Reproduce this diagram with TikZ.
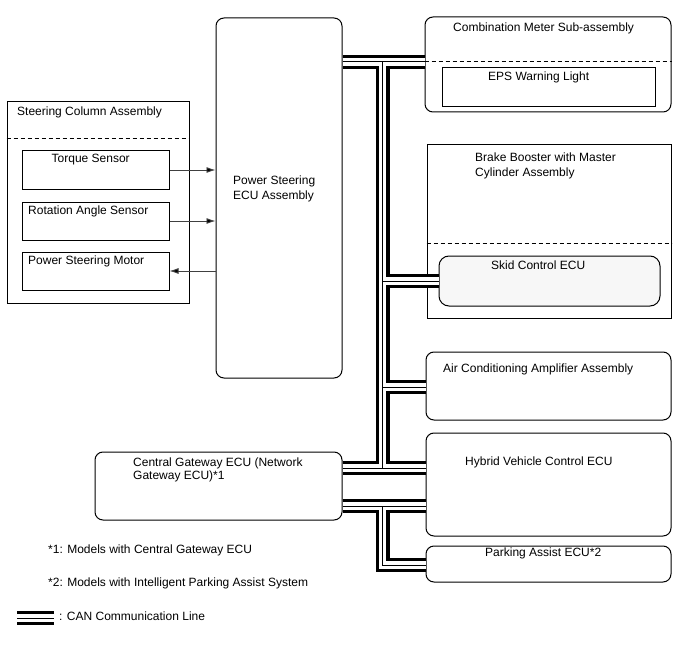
\documentclass[tikz,border=0pt]{standalone}
\usepackage{fontspec}
\setmainfont{Liberation Sans}
\usetikzlibrary{fit,arrows.meta}
\begin{document}
\begin{tikzpicture}[x=1pt,y=-1pt,
  box/.style={draw=black,line width=1pt,inner sep=0pt,fill=white},
  rbox/.style={box,rounded corners=8pt},
  txt/.style={inner sep=0pt,font=\fontsize{12}{15}\selectfont,text=black},
  dashline/.style={line width=1pt,dash pattern=on 4pt off 3pt},
  arr/.style={draw=black!75,line width=0.9pt,-{Latex[length=9pt,width=6pt,fill=black]}},
  busout/.style={line width=14pt,black},
  busmid/.style={line width=7.5pt,white},
  buscore/.style={line width=1pt,black}
]
\useasboundingbox[fill=white] (0,0) rectangle (688,658);

% boxes
\node[box,fit={(7,102) (189,303)}] (col) {};
\node[box,fit={(22,151) (169,189)}] (torque) {};
\node[box,fit={(22,202) (169,240)}] (rot) {};
\node[box,fit={(22,252) (169,290)}] (motor) {};
\node[rbox,fit={(216,18) (342,378)}] (psecu) {};
\node[rbox,fit={(425,17) (671,112)}] (meter) {};
\node[box,fit={(442,68) (655,107)}] (eps) {};
\node[box,fit={(427,145) (671,318)}] (brake) {};
\node[box,rounded corners=10pt,fill=black!3,fit={(439,256) (660,306)}] (skid) {};
\node[rbox,fit={(426,352) (671,420)}] (ac) {};
\node[rbox,fit={(426,433) (671,536)}] (hv) {};
\node[rbox,fit={(426,546) (671,582)}] (park) {};
\node[rbox,fit={(95,452) (342,520)}] (gw) {};

% dashed separators
\coordinate (colsep) at (0,139);
\coordinate (metsep) at (0,62);
\coordinate (brksep) at (0,243);
\draw[dashline] (colsep -| col.west) -- (colsep -| col.east);
\draw[dashline] (metsep -| meter.west) -- (metsep -| meter.east);
\draw[dashline] (brksep -| brake.west) -- (brksep -| brake.east);

% texts
\node[txt,anchor=base west] (tcol) at (17,116) {Steering Column Assembly};
\node[txt,anchor=base west] (ttorque) at (51.5,163) {Torque Sensor};
\node[txt,anchor=base west] (trot) at (28,214) {Rotation Angle Sensor};
\node[txt,anchor=base west] (tmotor) at (28,264) {Power Steering Motor};
\node[txt,anchor=north west,align=left] (tpsecu) at (233,175.4) {Power Steering\\ECU Assembly};
\node[txt,anchor=base west] (tmeter) at (453,31.5) {Combination Meter Sub-assembly};
\node[txt,anchor=base west] (teps) at (488,81) {EPS Warning Light};
\node[txt,anchor=north west,align=left] (tbrake) at (475,152.4) {Brake Booster with Master\\Cylinder Assembly};
\node[txt,anchor=base west] (tskid) at (491,269) {Skid Control ECU};
\node[txt,anchor=base west] (tac) at (443,372) {Air Conditioning Amplifier Assembly};
\node[txt,anchor=base west] (thv) at (465,465) {Hybrid Vehicle Control ECU};
\node[txt,anchor=base west] (tpark) at (485,556) {Parking Assist ECU*2};
\node[txt,anchor=north west,align=left,font=\fontsize{12}{13.5}\selectfont] (tgw) at (133,457.3) {Central Gateway ECU (Network\\Gateway ECU)*1};
\node[txt,anchor=base west] (tn1) at (48,553) {*1: Models with Central Gateway ECU};
\node[txt,anchor=base west] (tn2) at (48,586) {*2: Models with Intelligent Parking Assist System};
\node[txt,anchor=base west] (tleg) at (59,620) {: CAN Communication Line};

% arrows
\draw[arr] (torque.east) -- (torque.east -| psecu.west);
\draw[arr] (rot.east) -- (rot.east -| psecu.west);
\draw[arr] (motor.east -| psecu.west) -- (motor.east);

% CAN bus
\coordinate (trunkx) at (382.5,0);
\coordinate (yA) at (0,62);
\coordinate (yB) at (0,468);
\coordinate (yC) at (0,506);
\coordinate (yS) at (0,281);
\coordinate (yAC) at (0,387);
\coordinate (yP) at (0,565);
\coordinate (legA) at (17,618);
\coordinate (legB) at (54,618);
\newcommand\canpaths{
  (yA -| psecu.east) -- (yA -| meter.west)
  (yA -| trunkx) -- (yB -| trunkx)
  (yS -| trunkx) -- (yS -| skid.west)
  (yAC -| trunkx) -- (yAC -| ac.west)
  (yB -| gw.east) -- (yB -| hv.west)
  (yC -| gw.east) -- (yC -| hv.west)
  (yC -| trunkx) -- (yP -| trunkx) -- (yP -| park.west)
  (legA) -- (legB)
}
\draw[busout] \canpaths;
\draw[busmid] \canpaths;
\draw[buscore] \canpaths;
\end{tikzpicture}
\end{document}
